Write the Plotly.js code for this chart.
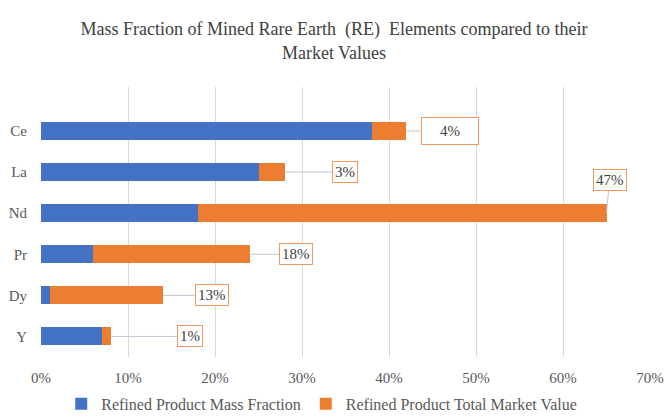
<!DOCTYPE html>
<html>
<head>
<meta charset="utf-8">
<script src="https://cdn.plot.ly/plotly-3.0.1.min.js"></script>
<style>html,body{margin:0;padding:0;background:#fff;}#chart{width:668px;height:419px;}</style>
</head>
<body>
<div id="chart"></div>
<script>
const elements = ['Ce', 'La', 'Nd', 'Pr', 'Dy', 'Y'];
const massFraction = [38, 25, 18, 6, 1, 7];
const marketValue = [4, 3, 47, 18, 13, 1];
const marketLabels = ['4%', '3%', '47%', '18%', '13%', '1%'];
const xTickVals = [0, 10, 20, 30, 40, 50, 60, 70];
const xTickText = ['0%', '10%', '20%', '30%', '40%', '50%', '60%', '70%'];

// label callout offsets (styling, pixels)
const labelOffsets = [[44, 0], [60, 0], [3, -33], [46, 0], [49, 0], [79, 0]];
const labelBoxW = [52, null, null, null, null, null];
const labelBoxH = [22, null, null, null, null, null];

const serif = 'Liberation Serif';

const traces = [
  {
    type: 'bar', orientation: 'h', name: 'Refined Product Mass Fraction',
    y: elements, x: massFraction, width: 0.44,
    marker: {color: '#4472C4'}, hoverinfo: 'x+y'
  },
  {
    type: 'bar', orientation: 'h', name: 'Refined Product Total Market Value',
    y: elements, x: marketValue, width: 0.44,
    marker: {color: '#ED7D31'}, hoverinfo: 'x+y'
  }
];

const annotations = elements.map((el, i) => {
  const a = {
    x: massFraction[i] + marketValue[i], y: el, xref: 'x', yref: 'y',
    text: marketLabels[i], showarrow: true, arrowhead: 0, arrowwidth: 1,
    arrowcolor: '#bfc7d5', ax: labelOffsets[i][0], ay: labelOffsets[i][1],
    standoff: 0, startstandoff: 0,
    bordercolor: '#EE9A5E', borderwidth: 1, borderpad: 2, bgcolor: '#ffffff',
    font: {family: serif, size: 15, color: '#404040'}
  };
  if (labelBoxW[i]) a.width = labelBoxW[i];
  if (labelBoxH[i]) a.height = labelBoxH[i];
  return a;
});

const layout = {
  width: 668, height: 419,
  paper_bgcolor: '#ffffff', plot_bgcolor: '#ffffff',
  margin: {l: 41, r: 18, t: 87, b: 62, autoexpand: false},
  barmode: 'stack',
  font: {family: serif},
  title: {
    text: 'Mass Fraction of Mined Rare Earth  (RE)  Elements compared to their<br>Market Values',
    font: {family: serif, size: 18, color: '#404040'},
    x: 0.5, xanchor: 'center', y: 0.916, yanchor: 'top'
  },
  xaxis: {
    range: [0, 70], tickvals: xTickVals, ticktext: xTickText,
    showgrid: true, gridcolor: '#d9d9d9', gridwidth: 1, zeroline: false,
    showline: false, ticks: '', ticklen: 0, ticklabelstandoff: 10,
    tickfont: {family: serif, size: 15, color: '#595959'}, fixedrange: true
  },
  yaxis: {
    type: 'category', categoryorder: 'array', categoryarray: elements,
    range: [5.5, -1.07], showgrid: false, zeroline: false, showline: false,
    ticks: '', ticklabelstandoff: 13,
    tickfont: {family: serif, size: 15, color: '#595959'}, fixedrange: true
  },
  legend: {
    orientation: 'h', x: 0.461, xanchor: 'center', y: -0.111, yanchor: 'top',
    font: {family: serif, size: 16, color: '#595959'}, traceorder: 'normal',
    itemwidth: 30
  },
  showlegend: true,
  annotations: annotations
};

Plotly.newPlot('chart', traces, layout, {displayModeBar: false, staticPlot: true});
</script>
</body>
</html>
